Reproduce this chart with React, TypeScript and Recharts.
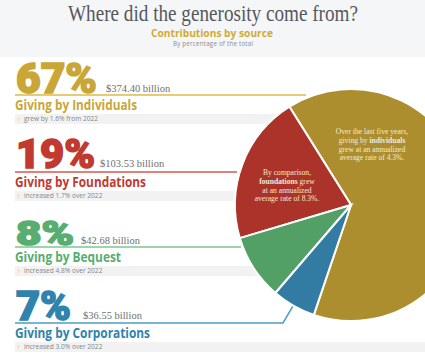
import { PieChart, Pie, Cell } from "recharts";

const title = "Where did the generosity come from?";
const subtitle = "Contributions by source";
const caption = "By percentage of the total";

const percents = ["67%", "19%", "8%", "7%"];
const amounts = ["$374.40 billion", "$103.53 billion", "$42.68 billion", "$36.55 billion"];
const sources = ["Giving by Individuals", "Giving by Foundations", "Giving by Bequest", "Giving by Corporations"];
const notes = ["grew by 1.6% from 2022", "increased 1.7% over 2022", "increased 4.8% over 2022", "increased 3.0% over 2022"];
// share of the drawn circle, measured from the slices (the printed percents add up to 101)
const sliceShares = [64.1, 20.7, 9.1, 6.1];

const pieData = sources.map((name, i) => ({ name, value: sliceShares[i] }));

const textColors = ["#c9a636", "#c2392f", "#58ad70", "#2f83ad"];
const lineColors = ["#dcbb45", "#d9574e", "#7cc68f", "#4d9fc9"];
const sliceColors = ["#ad8e2e", "#ab3329", "#52a066", "#327ba3"];

// layout of the left hand rows
const baselines = [93, 168, 245, 320];
const percentSizes = [42, 41, 34, 40];
const percentWidths = [81, 79, 58, 55];
const amountX = [106, 100, 81, 83];
const lineY = [95, 172, 247, 323];
const lineEnd = [306, 237, 241, 283];
const nameWidths = [122, 131, 106, 135];

const goldNote = [
  ["Over the last five years,"],
  ["giving by ", "individuals"],
  ["grew at an annualized"],
  ["average rate of 4.3%."],
];
const redNote = [
  ["By comparison,"],
  ["", "foundations", " grew"],
  ["at an annualized"],
  ["average rate of 8.3%."],
];

const serif = "'Liberation Serif', serif";
const sans = "'Open Sans', 'Noto Sans', sans-serif";

const PieNote = ({ lines, x, y }: { lines: string[][]; x: number; y: number }) => (
  <text x={x} y={y} textAnchor="middle" fontFamily={serif} fontSize={7.6} fill="#f3ead2">
    {lines.map((parts, i) => (
      <tspan key={i} x={x} dy={i === 0 ? 0 : 8.8}>
        {parts.map((part, j) => (
          <tspan key={j} fontWeight={j === 1 ? 700 : 400}>
            {part}
          </tspan>
        ))}
      </tspan>
    ))}
  </text>
);

const layer = { position: "absolute", left: 0, top: 0 } as const;

export default function App() {
  return (
    <div style={{ position: "fixed", left: 0, top: 0, width: 425, height: 355, overflow: "hidden", background: "#fff" }}>
      <svg width={425} height={355} style={layer}>
        <rect x={0} y={0} width={425} height={57} fill="#f5f6f8" />
        <text x={213} y={21} textAnchor="middle" fontFamily={serif} fontSize={24} textLength={290} lengthAdjust="spacingAndGlyphs" fill="#55585c">
          {title}
        </text>
        <text x={212} y={37} textAnchor="middle" fontFamily={sans} fontWeight={700} fontSize={10.5} textLength={122} lengthAdjust="spacingAndGlyphs" fill="#d0ab35">
          {subtitle}
        </text>
        <text x={213} y={46} textAnchor="middle" fontFamily={sans} fontSize={6.2} textLength={80} fill="#8a8c90">
          {caption}
        </text>

        {percents.map((p, i) => (
          <g key={p}>
            <rect x={15} y={lineY[i] + 19} width={410} height={10} fill="#f2f2f2" />
            <text x={16} y={baselines[i]} fontFamily="Roboto, 'Open Sans', sans-serif" fontWeight={900} fontSize={percentSizes[i]} textLength={percentWidths[i]} lengthAdjust="spacingAndGlyphs" stroke={textColors[i]} strokeWidth={1.6} fill={textColors[i]}>
              {p}
            </text>
            <text x={amountX[i]} y={baselines[i] - 1} fontFamily={serif} fontSize={10.5} fill="#6d6f73">
              {amounts[i]}
            </text>
            <text x={15} y={lineY[i] + 15} fontFamily={sans} fontWeight={700} fontSize={14} textLength={nameWidths[i]} lengthAdjust="spacingAndGlyphs" fill={textColors[i]}>
              {sources[i]}
            </text>
            <text x={17} y={lineY[i] + 26} fontFamily={sans} fontWeight={700} fontSize={6} fill="#e6b52e">
              ↑
            </text>
            <text x={24} y={lineY[i] + 26} fontFamily={sans} fontSize={6.6} fill="#85878a">
              {notes[i]}
            </text>
            <polyline
              points={i === 3 ? `15,${lineY[i]} ${lineEnd[i]},${lineY[i]} 293,306` : `15,${lineY[i]} ${lineEnd[i]},${lineY[i]}`}
              fill="none"
              stroke={lineColors[i]}
              strokeWidth={1.5}
            />
          </g>
        ))}
      </svg>

      <div style={layer}>
        <PieChart width={425} height={355} margin={{ top: 0, right: 0, bottom: 0, left: 0 }}>
          <Pie
            data={pieData}
            dataKey="value"
            cx={351}
            cy={205}
            innerRadius={0}
            outerRadius={116}
            startAngle={-108.7}
            endAngle={251.3}
            stroke="#ffffff"
            strokeWidth={2}
            isAnimationActive={false}
          >
            {pieData.map((d, i) => (
              <Cell key={d.name} fill={sliceColors[i]} />
            ))}
          </Pie>
        </PieChart>
      </div>

      <svg width={425} height={355} style={{ ...layer, pointerEvents: "none" }}>
        <PieNote lines={goldNote} x={372} y={134} />
        <PieNote lines={redNote} x={287} y={175} />
      </svg>
    </div>
  );
}
